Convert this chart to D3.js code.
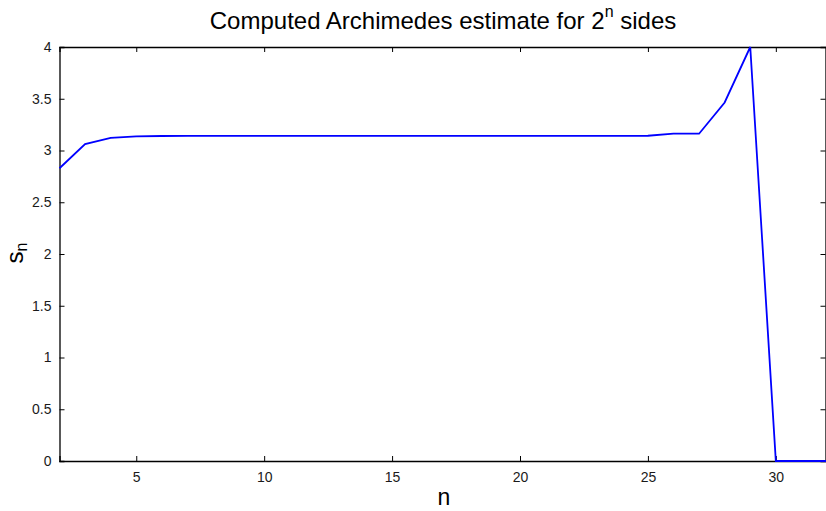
<!DOCTYPE html>
<html>
<head>
<meta charset="utf-8">
<script src="https://cdn.jsdelivr.net/npm/d3@7"></script>
<style>
  body { margin: 0; background: #fff; }
  svg { display: block; font-family: "Liberation Sans", Arial, sans-serif; }
</style>
</head>
<body>
<div id="chart"></div>
<script>
// n = number of doublings, polygon has 2^n sides
const nValues = [2, 3, 4, 5, 6, 7, 8, 9, 10, 11, 12, 13, 14, 15, 16, 17, 18, 19, 20, 21, 22, 23, 24, 25, 26, 27, 28, 29, 30, 31, 32];
const estimates = [2.8284, 3.0615, 3.1214, 3.1365, 3.1403, 3.1413, 3.1415, 3.1416, 3.1416, 3.1416, 3.1416, 3.1416, 3.1416, 3.1416, 3.1416, 3.1416, 3.1416, 3.1416, 3.1416, 3.1416, 3.1416, 3.1417, 3.1418, 3.1425, 3.1623, 3.1623, 3.4641, 4.0, 0, 0, 0];
const xTicks = [5, 10, 15, 20, 25, 30];
const yTicks = [0, 0.5, 1, 1.5, 2, 2.5, 3, 3.5, 4];

const width = 826;
const height = 511;
const margin = { top: 47, right: 0, bottom: 50, left: 59.5 };

const svg = d3.select("#chart").append("svg")
  .attr("width", width)
  .attr("height", height);

const x = d3.scaleLinear().domain([2, 32]).range([margin.left, 827]);
const y = d3.scaleLinear().domain([0, 4]).range([height - margin.bottom, margin.top]);

const tickLen = 5;

// bottom axis with labels, inward ticks
svg.append("g")
  .attr("transform", `translate(0,${y(0)})`)
  .call(d3.axisBottom(x).tickValues(xTicks).tickSize(-tickLen).tickPadding(11));
// top mirror ticks
svg.append("g")
  .attr("transform", `translate(0,${y(4)})`)
  .call(d3.axisTop(x).tickValues(xTicks).tickSize(-tickLen).tickFormat(""));
// left axis
svg.append("g")
  .attr("transform", `translate(${x(2)},0)`)
  .call(d3.axisLeft(y).tickValues(yTicks).tickSize(-tickLen).tickPadding(8).tickFormat(d3.format("")));
// right mirror ticks
svg.append("g")
  .attr("transform", `translate(${width - 0.5},0)`)
  .call(d3.axisRight(y).tickValues(yTicks).tickSize(-tickLen).tickFormat(""));

svg.selectAll(".domain").attr("stroke", "#000").attr("stroke-width", 1.3);
svg.selectAll(".tick line").attr("stroke", "#000");
svg.selectAll(".tick text")
  .attr("fill", "#1a1a1a")
  .style("font-family", "'Liberation Sans', Arial, sans-serif")
  .style("font-size", "14px");

// series line
const line = d3.line()
  .x((d, i) => x(nValues[i]))
  .y(d => y(d));

svg.append("path")
  .datum(estimates)
  .attr("fill", "none")
  .attr("stroke", "#0000ff")
  .attr("stroke-width", 1.8)
  .attr("d", line);

// title
const title = svg.append("text")
  .attr("x", 443)
  .attr("y", 29)
  .attr("text-anchor", "middle")
  .style("font-size", "24px")
  .attr("fill", "#000");
title.append("tspan").text("Computed Archimedes estimate for 2");
title.append("tspan").attr("dy", -12).style("font-size", "16px").text("n");
title.append("tspan").attr("dy", 12).text(" sides");

// x label
svg.append("text")
  .attr("x", 444)
  .attr("y", 505)
  .attr("text-anchor", "middle")
  .style("font-size", "23px")
  .text("n");

// y label
const yl = svg.append("text")
  .attr("transform", "translate(23,253) rotate(-90)")
  .attr("text-anchor", "middle")
  .style("font-size", "24px");
yl.append("tspan").text("s");
yl.append("tspan").attr("dy", 4).style("font-size", "16px").text("n");
</script>
</body>
</html>
